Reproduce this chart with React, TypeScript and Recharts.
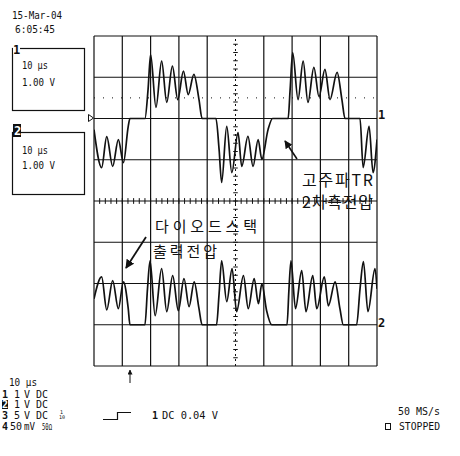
import { LineChart, Line, XAxis, YAxis, CartesianGrid, ReferenceLine } from 'recharts';

// time in divisions (10 us/div), volts in V (1 V/div)
const ch1Time = [0, 0.27, 0.45, 0.66, 0.86, 1.04, 1.21, 1.27, 1.8, 1.91, 2.0, 2.19, 2.39, 2.57, 2.77, 2.96, 3.16, 3.33, 3.53, 3.71, 3.82, 4.31, 4.42, 4.51, 4.69, 4.87, 5.09, 5.22, 5.44, 5.62, 5.8, 5.93, 6.15, 6.31, 6.86, 6.93, 7.02, 7.21, 7.39, 7.56, 7.77, 7.95, 8.16, 8.34, 8.59, 8.76, 8.87, 9.4, 9.51, 9.72, 9.86, 10.0];
const ch1Volt = [-0.27, -1.19, -0.44, -1.16, -0.51, -1.07, -0.19, 0, 0, 0.7, 1.55, 0.27, 1.39, 0.39, 1.27, 0.46, 1.15, 0.58, 1.07, 0.46, 0, 0, -0.75, -1.55, -0.19, -1.31, -0.34, -1.16, -0.43, -1.16, -0.51, -0.99, -0.27, 0, 0, 0.7, 1.6, 0.46, 1.39, 0.39, 1.24, 0.53, 1.19, 0.46, 1.12, 0.46, 0, 0, -1.19, -0.19, -1.31, -0.51];

const ch2Time = [0, 0.27, 0.45, 0.66, 0.86, 1.04, 1.21, 1.27, 1.8, 1.89, 1.98, 2.16, 2.39, 2.57, 2.78, 2.98, 3.18, 3.36, 3.54, 3.71, 3.82, 4.33, 4.42, 4.51, 4.69, 4.88, 5.04, 5.28, 5.45, 5.66, 5.81, 5.93, 6.1, 6.28, 6.82, 6.89, 6.96, 7.12, 7.34, 7.49, 7.73, 7.87, 8.14, 8.28, 8.52, 8.69, 8.81, 9.28, 9.4, 9.52, 9.68, 9.93, 10.0];
const ch2Volt = [0.63, 1.16, 0.36, 1.07, 0.39, 1.04, 0.39, 0, 0, 0.87, 1.55, 0.22, 1.36, 0.32, 1.19, 0.34, 1.12, 0.44, 1.04, 0.39, 0, 0, 0.75, 1.55, 0.56, 1.36, 0.32, 1.19, 0.39, 1.12, 0.51, 0.99, 0.34, 0, 0, 0.87, 1.55, 0.39, 1.31, 0.32, 1.19, 0.39, 1.16, 0.46, 1.04, 0.39, 0, 0, 0.87, 1.53, 0.32, 1.36, 0.87];

// ground reference positions, in divisions from screen centre
const ch1Offset = 2;
const ch2Offset = -3;

const xDivs = [0, 1, 2, 3, 4, 6, 7, 8, 9, 10];
const yDivs = [-4, -3, -2, -1, 0, 1, 2, 3, 4];
const xMinor = Array.from({ length: 49 }, (_, i) => Math.round((i + 1) * 2) / 10);
const yMinor = Array.from({ length: 39 }, (_, i) => Math.round(-40 + (i + 1) * 2) / 10);

const ch1Data = ch1Time.map((t, i) => ({ t, v: ch1Volt[i] }));
const ch2Data = ch2Time.map((t, i) => ({ t, v: ch2Volt[i] }));

const mono = "'DejaVu Sans Mono', monospace";
const kr = "'Noto Sans CJK KR', sans-serif";
const ink = '#111';

function Overlay() {
  return (
    <svg
      width={460}
      height={456}
      style={{ position: 'absolute', left: 0, top: 0, pointerEvents: 'none' }}
      fontFamily={mono}
      fill={ink}
    >
      <defs>
        <marker id="head" viewBox="0 0 10 10" refX="9" refY="5" markerWidth="5" markerHeight="5" orient="auto">
          <path d="M0,0 L10,5 L0,10 z" fill={ink} />
        </marker>
      </defs>

      {/* date / time */}
      <text x={12} y={19} fontSize={11} textLength={50} lengthAdjust="spacingAndGlyphs">15-Mar-04</text>
      <text x={15} y={33} fontSize={11} textLength={40} lengthAdjust="spacingAndGlyphs">6:05:45</text>

      {/* channel boxes */}
      <rect x={12.5} y={48.5} width={72} height={62} fill="none" stroke={ink} strokeWidth={1.2} />
      <rect x={13} y={43} width={7} height={11} fill="#fff" />
      <text x={13} y={54} fontSize={12} fontWeight="bold">1</text>
      <text x={22} y={69} fontSize={11} textLength={26} lengthAdjust="spacingAndGlyphs">10 µs</text>
      <text x={22} y={86} fontSize={11} textLength={33} lengthAdjust="spacingAndGlyphs">1.00 V</text>

      <rect x={12.5} y={132.5} width={72} height={62} fill="none" stroke={ink} strokeWidth={1.2} />
      <rect x={13} y={124} width={8} height={13} fill={ink} />
      <text x={14} y={135} fontSize={12} fontWeight="bold" fill="#fff">2</text>
      <text x={22} y={154} fontSize={11} textLength={26} lengthAdjust="spacingAndGlyphs">10 µs</text>
      <text x={22} y={169} fontSize={11} textLength={33} lengthAdjust="spacingAndGlyphs">1.00 V</text>

      {/* ground markers */}
      <path d="M88.5,114.5 L93.5,118 L88.5,121.5 z" fill="#fff" stroke={ink} strokeWidth={1} />
      <text x={378} y={119} fontSize={12} fontWeight="bold">1</text>
      <text x={378} y={327} fontSize={12} fontWeight="bold">2</text>

      {/* trigger position */}
      <line x1={130} y1={383} x2={130} y2={370} stroke={ink} strokeWidth={1} markerEnd="url(#head)" />

      {/* annotations */}
      <text x={302} y={186} fontFamily={kr} fontSize={16} textLength={71}>고주파TR</text>
      <text x={302} y={208} fontFamily={kr} fontSize={16} textLength={71}>2차측전압</text>
      <line x1={297} y1={159} x2={285} y2={141} stroke={ink} strokeWidth={1.6} markerEnd="url(#head)" />

      <text x={155} y={232} fontFamily={kr} fontSize={15} textLength={102}>다이오드스택</text>
      <text x={153} y={257} fontFamily={kr} fontSize={15} textLength={64}>출력전압</text>
      <line x1={146} y1={237} x2={126} y2={268} stroke={ink} strokeWidth={1.8} markerEnd="url(#head)" />

      {/* status block */}
      <text x={9} y={386} fontSize={10} textLength={28} lengthAdjust="spacingAndGlyphs">10 µs</text>

      <text x={2} y={398} fontSize={10} fontWeight="bold">1</text>
      <text x={14} y={398} fontSize={10}>1</text>
      <text x={24} y={398} fontSize={10}>V</text>
      <text x={36} y={398} fontSize={10}>DC</text>

      <rect x={2} y={400} width={6} height={9} fill={ink} />
      <text x={2} y={408} fontSize={10} fontWeight="bold" fill="#fff">2</text>
      <text x={14} y={408} fontSize={10}>1</text>
      <text x={24} y={408} fontSize={10}>V</text>
      <text x={36} y={408} fontSize={10}>DC</text>

      <text x={2} y={419} fontSize={10} fontWeight="bold">3</text>
      <text x={14} y={419} fontSize={10}>5</text>
      <text x={24} y={419} fontSize={10}>V</text>
      <text x={36} y={419} fontSize={10}>DC</text>
      <text x={60} y={414} fontSize={5}>1</text>
      <text x={59} y={419} fontSize={5}>10</text>
      <path d="M103,419.5 H117.5 V412.5 H131" fill="none" stroke={ink} strokeWidth={1.2} />
      <text x={152} y={419} fontSize={10} fontWeight="bold">1</text>
      <text x={162} y={419} fontSize={10} textLength={56} lengthAdjust="spacingAndGlyphs">DC 0.04 V</text>

      <text x={2} y={430} fontSize={10} fontWeight="bold">4</text>
      <text x={10} y={430} fontSize={10}>50</text>
      <text x={24} y={430} fontSize={10} textLength={11} lengthAdjust="spacingAndGlyphs">mV</text>
      <text x={42} y={430} fontSize={8} textLength={10} lengthAdjust="spacingAndGlyphs">50Ω</text>

      <text x={398} y={415} fontSize={10} textLength={42} lengthAdjust="spacingAndGlyphs">50 MS/s</text>
      <rect x={385.5} y={423.5} width={5} height={6} fill="none" stroke={ink} strokeWidth={1} />
      <text x={399} y={430} fontSize={10} textLength={41} lengthAdjust="spacingAndGlyphs">STOPPED</text>
    </svg>
  );
}

export default function App() {
  return (
    <div style={{ position: 'absolute', left: 0, top: 0, width: 460, height: 456, background: '#fff' }}>
      <LineChart width={460} height={456} margin={{ top: 36, right: 83, bottom: 90, left: 94 }}>
        <XAxis type="number" dataKey="t" domain={[0, 10]} ticks={xDivs} hide allowDataOverflow />
        <YAxis type="number" domain={[-4, 4]} ticks={yDivs} hide allowDataOverflow />
        <CartesianGrid stroke={ink} strokeWidth={1.2} />

        {/* center graticule with minor ticks */}
        <ReferenceLine x={5} stroke={ink} strokeWidth={1} strokeDasharray="2 3" />
        <ReferenceLine y={2.5} stroke={ink} strokeWidth={1} strokeDasharray="1 8" />
        {xMinor.map((t) => (
          <ReferenceLine
            key={`xm-${t}`}
            segment={[{ x: t, y: -0.07 }, { x: t, y: 0.07 }]}
            stroke={ink}
            strokeWidth={1}
          />
        ))}
        {yMinor.map((v) => (
          <ReferenceLine
            key={`ym-${v}`}
            segment={[{ x: 4.92, y: v }, { x: 5.08, y: v }]}
            stroke={ink}
            strokeWidth={1}
          />
        ))}

        <Line
          data={ch1Data}
          dataKey={(d: { v: number }) => d.v + ch1Offset}
          type="monotone"
          stroke={ink}
          strokeWidth={1.7}
          dot={false}
          isAnimationActive={false}
        />
        <Line
          data={ch2Data}
          dataKey={(d: { v: number }) => d.v + ch2Offset}
          type="monotone"
          stroke={ink}
          strokeWidth={1.7}
          dot={false}
          isAnimationActive={false}
        />
      </LineChart>
      <Overlay />
    </div>
  );
}
